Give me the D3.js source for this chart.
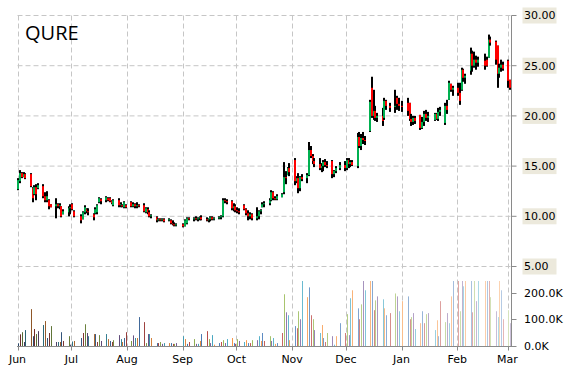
<!DOCTYPE html>
<html>
<head>
<meta charset="utf-8">
<script src="https://cdn.jsdelivr.net/npm/d3@7"></script>
<style>
  body { margin: 0; background: #fff; }
  svg { display: block; }
</style>
</head>
<body>
<div id="chart"></div>
<script>
const ticker = 'QURE';
const holidays = ['2014-07-04', '2014-09-01', '2014-11-27', '2014-12-25', '2015-01-01', '2015-01-19', '2015-02-16'];

const opens = [
  12.7, 13.5, 14.3, 13.9, 14.2, 14.2, 12.8, 12.2, 12.9, 12.8, 13.0, 12.0, 11.6, 11.6, 11.2, 11.0, 11.2, 11.0, 11.0, 10.2, 10.4,
  10.8, 11.2, 10.5, 10.0, 9.7, 10.4, 10.7, 10.5, 10.2, 10.3, 10.4, 11.4, 11.7, 11.6, 11.8, 11.8, 11.5, 11.1, 11.6, 11.1, 11.1, 10.9,
  11.1, 11.4, 11.0, 11.2, 11.0, 11.1, 11.1, 10.4, 10.7, 10.4, 10.0, 9.9, 9.6, 9.7, 9.6, 9.7, 9.6, 9.6, 9.3, 9.2, 9.1,
  9.2, 9.0, 9.3, 9.8, 9.7, 9.8, 9.7, 9.8, 9.9, 9.7, 9.6, 9.7, 9.9, 9.7, 9.8, 9.9, 10.0, 11.6, 11.5, 11.5, 10.8,
  11.0, 10.6, 10.5, 11.1, 10.7, 10.3, 10.0, 10.2, 9.8, 10.0, 10.5, 10.9, 11.2, 11.3, 11.6, 12.4, 11.8, 11.7, 11.9, 12.4, 13.9, 14.1, 14.8,
  15.6, 13.5, 13.8, 12.8, 13.9, 13.8, 14.1, 16.6, 16.0, 15.5, 15.2, 14.8, 15.0, 15.4, 15.1, 15.5, 14.2, 14.5, 14.8,
  15.1, 14.8, 15.6, 15.2, 15.4, 15.0, 17.9, 17.0, 17.8, 17.6, 18.5, 22.8, 20.0, 20.5, 19.8, 20.0, 19.8, 21.5, 21.0, 20.9, 21.8, 21.2,
  21.0, 21.3, 21.3, 19.7, 19.4, 19.8, 20.1, 18.8, 19.4, 20.2, 19.8, 19.6, 20.2, 19.7, 20.4, 19.3, 21.0, 21.6, 23.2, 22.6,
  22.8, 22.3, 22.6, 24.6, 23.8, 24.5, 26.2, 25.0, 25.6, 25.3, 25.5, 25.6, 25.8, 27.6, 27.4, 27.0, 24.2, 24.8, 25.1,
  25.5, 23.6
];
const highs = [
  13.8, 14.6, 14.4, 14.4, 14.3, 14.3, 12.9, 13.1, 13.2, 13.3, 13.2, 12.4, 12.5, 11.7, 11.2, 11.8, 11.3, 11.3, 11.0, 10.7, 11.0,
  11.2, 11.3, 10.6, 10.2, 10.5, 11.1, 10.8, 10.8, 10.3, 10.9, 11.2, 11.9, 11.8, 12.0, 11.9, 11.9, 11.6, 11.7, 11.8, 11.4, 11.2, 11.5,
  11.2, 11.5, 11.4, 11.3, 11.4, 11.2, 11.3, 10.9, 10.9, 10.6, 10.2, 10.0, 9.8, 9.8, 9.8, 9.8, 9.8, 9.7, 9.6, 9.4, 9.3,
  9.3, 9.7, 9.9, 9.9, 9.9, 10.0, 9.9, 10.0, 10.1, 9.9, 9.8, 10.0, 10.0, 9.9, 10.0, 10.1, 11.8, 11.8, 11.7, 11.6, 11.3,
  11.2, 10.9, 10.8, 11.2, 10.8, 10.6, 10.4, 10.3, 10.9, 10.6, 10.7, 11.4, 11.5, 11.8, 12.6, 12.5, 12.0, 12.2, 12.3, 15.4, 14.5, 14.9, 15.3,
  15.8, 14.0, 14.3, 14.0, 14.2, 14.3, 17.4, 17.0, 16.2, 15.8, 15.8, 15.3, 15.6, 15.7, 15.5, 15.6, 14.6, 15.0, 15.4,
  15.5, 15.8, 15.8, 15.6, 15.6, 18.3, 18.4, 18.2, 18.4, 18.0, 21.6, 23.9, 22.6, 21.0, 20.3, 20.8, 21.8, 21.6, 21.3, 22.6, 22.0, 21.8,
  21.5, 21.8, 21.3, 20.2, 20.0, 20.0, 20.1, 19.9, 20.5, 20.6, 20.4, 20.3, 20.3, 20.8, 20.9, 21.3, 21.6, 23.5, 23.2, 23.0,
  23.3, 23.3, 24.8, 24.7, 24.2, 26.8, 26.5, 26.4, 26.0, 25.9, 26.2, 25.9, 28.1, 27.9, 27.5, 27.0, 25.2, 25.6, 25.4,
  25.6, 23.6
];
const lows = [
  12.6, 13.3, 13.8, 13.9, 13.7, 12.9, 11.4, 12.1, 11.6, 12.7, 11.8, 11.4, 11.4, 10.7, 10.9, 9.8, 10.8, 10.7, 9.9, 10.2, 10.0,
  10.2, 10.6, 9.9, 9.3, 9.7, 10.2, 10.3, 10.1, 9.6, 10.2, 10.2, 11.3, 11.2, 11.4, 11.5, 11.4, 11.2, 11.0, 10.9, 10.9, 10.9, 10.8,
  10.8, 10.9, 10.9, 10.8, 10.8, 10.9, 10.4, 10.3, 10.2, 9.9, 9.8, 9.4, 9.5, 9.5, 9.5, 9.4, 9.5, 9.2, 9.1, 9.0, 9.0,
  8.9, 9.0, 9.2, 9.6, 9.5, 9.6, 9.5, 9.6, 9.6, 9.5, 9.4, 9.5, 9.6, 9.6, 9.7, 9.7, 9.9, 11.3, 11.2, 10.6, 10.5,
  10.4, 10.3, 10.2, 10.6, 10.1, 9.6, 9.7, 9.6, 9.6, 9.7, 10.2, 10.9, 10.9, 11.1, 11.5, 11.6, 11.6, 11.6, 11.9, 12.2, 13.2, 14.1, 14.0,
  13.1, 13.3, 12.3, 12.5, 13.5, 13.3, 14.0, 15.8, 15.2, 14.9, 14.6, 14.4, 14.5, 14.9, 14.8, 13.8, 13.9, 14.3, 14.6,
  14.5, 14.6, 14.8, 14.9, 15.0, 14.8, 16.8, 16.6, 17.2, 17.1, 18.4, 19.8, 19.6, 19.5, 19.4, 19.0, 19.6, 20.6, 20.4, 20.3, 20.6, 20.5,
  20.4, 20.0, 19.5, 19.0, 19.1, 19.2, 18.6, 18.7, 19.0, 19.5, 19.4, 19.5, 19.6, 19.5, 20.0, 19.1, 20.2, 21.6, 22.4, 22.0,
  22.0, 21.1, 22.5, 23.4, 23.2, 24.1, 24.4, 24.8, 24.6, 24.9, 24.6, 24.9, 25.8, 27.0, 25.1, 22.8, 23.8, 24.4, 24.5,
  22.8, 22.6
];
const closes = [
  13.6, 14.3, 13.9, 14.2, 13.8, 13.0, 11.8, 12.9, 12.2, 13.1, 12.0, 11.6, 12.0, 11.0, 10.9, 11.2, 11.0, 11.1, 10.0, 10.5, 10.8,
  10.9, 10.7, 10.0, 9.6, 10.4, 10.9, 10.5, 10.4, 9.9, 10.7, 11.1, 11.8, 11.5, 11.9, 11.6, 11.5, 11.3, 11.6, 11.1, 11.2, 11.0, 11.4,
  10.9, 11.0, 11.2, 11.0, 11.1, 11.0, 10.5, 10.8, 10.4, 10.0, 10.1, 9.6, 9.7, 9.6, 9.7, 9.5, 9.7, 9.3, 9.2, 9.1, 9.2,
  9.0, 9.6, 9.8, 9.7, 9.8, 9.7, 9.8, 9.9, 9.7, 9.6, 9.7, 9.9, 9.7, 9.8, 9.9, 10.0, 11.6, 11.5, 11.4, 10.8, 11.0,
  10.6, 10.5, 10.4, 10.7, 10.3, 10.0, 10.2, 9.8, 10.0, 10.5, 10.6, 11.2, 11.3, 11.6, 12.4, 11.8, 11.7, 12.0, 12.2, 13.9, 13.8, 14.8, 14.4,
  13.5, 13.8, 12.8, 13.9, 13.7, 14.1, 16.6, 16.0, 15.5, 15.2, 14.8, 15.0, 15.4, 15.1, 15.0, 14.2, 14.5, 14.8, 15.1,
  14.8, 15.6, 15.2, 15.4, 15.1, 17.9, 17.0, 17.8, 17.6, 17.5, 21.4, 20.0, 20.5, 19.8, 20.0, 19.5, 21.5, 21.0, 20.8, 21.0, 21.2, 21.0,
  20.9, 20.5, 19.7, 19.4, 19.8, 19.5, 18.8, 19.4, 20.2, 19.8, 20.0, 20.2, 19.7, 20.4, 20.6, 21.0, 20.6, 23.3, 22.6, 22.8,
  22.3, 21.5, 24.6, 23.8, 24.0, 26.2, 25.0, 25.6, 25.3, 25.6, 25.0, 25.0, 27.6, 27.3, 25.6, 24.2, 24.8, 25.1, 24.7,
  23.5, 22.8
];
// shares traded, thousands (bars above the panel are clipped)
const volumes = [
  10, 44, 52, 15, 60, 139, 37, 64, 45, 56, 79, 94, 30, 49, 75, 15, 15, 15, 52, 19, 37,
  5, 17, 19, 30, 49, 82, 49, 37, 45, 45, 15, 41, 19, 45, 26, 19, 15, 22, 41, 26, 15, 30,
  52, 19, 40, 30, 30, 109, 90, 11, 45, 45, 30, 11, 11, 15, 8, 11, 11, 11, 8, 8, 11,
  37, 26, 8, 15, 26, 8, 8, 19, 45, 56, 26, 11, 41, 5, 11, 15, 22, 11, 26, 30, 11,
  8, 26, 19, 15, 22, 11, 11, 22, 22, 37, 19, 49, 19, 37, 19, 30, 8, 11, 49, 195, 127, 116, 22,
  75, 67, 131, 101, 250, 184, 221, 116, 101, 60, 49, 79, 30, 15, 49, 37, 5, 37, 86,
  49, 120, 41, 180, 210, 142, 101, 157, 250, 210, 250, 250, 135, 172, 187, 176, 142, 116, 124, 198, 187, 131,
  169, 187, 101, 109, 124, 64, 86, 131, 86, 120, 124, 60, 97, 37, 169, 90, 124, 86, 187, 250,
  250, 131, 250, 225, 250, 250, 127, 250, 169, 250, 250, 250, 250, 184, 131, 109, 250, 210, 101,
  135, 86
];
const priceTicks = [5, 10, 15, 20, 25, 30];
const volumeTicks = [0, 100, 200];
const barPalette = ['#4F81BD', '#C0504D', '#9BBB59', '#8064A2', '#4BACC6', '#F79646'];

const width = 570, height = 370;
const plotLeft = 17.5, plotRight = 511.5, plotTop = 15.5, plotBottom = 346.5;
const font = 'DejaVu Sans, Verdana, sans-serif';

const dayKey = d3.timeFormat('%Y-%m-%d');
const days = d3.timeDay.range(new Date(2014, 5, 2), new Date(2015, 2, 4))
  .filter(d => d.getDay() % 6 !== 0 && !holidays.includes(dayKey(d)))
  .slice(0, closes.length);

const x = d3.scaleTime()
  .domain([new Date(2014, 5, 1), new Date(2015, 2, 1)])
  .range([plotLeft, 507.5]);
const y = d3.scaleLinear().domain([5, 30]).range([266.5, plotTop]);
const yVol = d3.scaleLinear().domain([0, 245]).range([plotBottom - 0.5, 281]).clamp(true);

const svg = d3.select('#chart').append('svg')
  .attr('width', width)
  .attr('height', height);

const months = d3.timeMonth.range(new Date(2014, 5, 1), new Date(2015, 2, 2));

// grid
const grid = svg.append('g')
  .attr('stroke', '#c6c6c6')
  .attr('stroke-dasharray', '5,3');
grid.selectAll('.h')
  .data(priceTicks)
  .join('line')
  .attr('class', 'h')
  .attr('x1', plotLeft).attr('x2', plotRight)
  .attr('y1', d => y(d)).attr('y2', d => y(d));
grid.selectAll('.v')
  .data(months)
  .join('line')
  .attr('class', 'v')
  .attr('x1', d => Math.round(x(d)) + 0.5).attr('x2', d => Math.round(x(d)) + 0.5)
  .attr('y1', plotTop).attr('y2', plotBottom);

// volume bars, colours vary by point from dark shades to light tints
const shadeColor = (i, n) => {
  const c = d3.rgb(barPalette[i % barPalette.length]);
  const f = -0.45 + 1.05 * i / (n - 1);
  const adj = v => f < 0 ? v * (1 + f) : v + (255 - v) * f;
  return d3.rgb(adj(c.r), adj(c.g), adj(c.b)).formatHex();
};
svg.append('g')
  .selectAll('rect')
  .data(volumes)
  .join('rect')
  .attr('x', (d, i) => Math.round(x(days[i])) - 1)
  .attr('width', 1)
  .attr('y', d => yVol(d))
  .attr('height', d => yVol(0) - yVol(d))
  .attr('fill', (d, i) => shadeColor(i, volumes.length));

// candles
const candles = svg.append('g')
  .selectAll('g')
  .data(days.map((d, i) => ({ date: d, o: opens[i], h: highs[i], l: lows[i], c: closes[i] })))
  .join('g');
candles.append('rect')
  .attr('x', d => Math.round(x(d.date)) - 2)
  .attr('width', 2)
  .attr('y', d => y(d.h))
  .attr('height', d => Math.max(1, y(d.l) - y(d.h)))
  .attr('fill', '#000');
candles.append('rect')
  .attr('x', d => Math.round(x(d.date)) - 2)
  .attr('width', 2)
  .attr('y', d => y(Math.max(d.o, d.c)))
  .attr('height', d => Math.max(1, Math.abs(y(d.o) - y(d.c))))
  .attr('fill', d => d.c >= d.o ? '#00b050' : '#ff0000');

// axes
const axis = svg.append('g').attr('stroke', '#8a8a8a');
axis.append('line')
  .attr('x1', plotRight).attr('x2', plotRight)
  .attr('y1', plotTop).attr('y2', plotBottom);
axis.append('line')
  .attr('x1', plotLeft - 0.5).attr('x2', plotRight + 0.5)
  .attr('y1', plotBottom).attr('y2', plotBottom);
axis.selectAll('.pt')
  .data(priceTicks)
  .join('line')
  .attr('class', 'pt')
  .attr('x1', plotRight).attr('x2', plotRight + 5)
  .attr('y1', d => y(d)).attr('y2', d => y(d));
axis.selectAll('.vt')
  .data(volumeTicks)
  .join('line')
  .attr('class', 'vt')
  .attr('x1', plotRight).attr('x2', plotRight + 5)
  .attr('y1', d => Math.round(yVol(d)) + 0.5).attr('y2', d => Math.round(yVol(d)) + 0.5);
axis.selectAll('.mt')
  .data(months)
  .join('line')
  .attr('class', 'mt')
  .attr('x1', d => Math.round(x(d)) + 0.5).attr('x2', d => Math.round(x(d)) + 0.5)
  .attr('y1', plotBottom).attr('y2', plotBottom + 4);

// price labels with shaded boxes
const priceLabel = svg.append('g')
  .selectAll('g')
  .data(priceTicks)
  .join('g')
  .attr('transform', d => `translate(524, ${y(d)})`);
priceLabel.append('rect')
  .attr('x', -1.5).attr('y', -8)
  .attr('width', 34).attr('height', 16)
  .attr('fill', '#ece9dc');
priceLabel.append('text')
  .attr('font-family', font)
  .attr('font-size', 11)
  .attr('dy', '0.36em')
  .attr('fill', '#000')
  .text(d => d3.format('.2f')(d));

svg.append('g')
  .selectAll('text')
  .data(volumeTicks)
  .join('text')
  .attr('x', 524)
  .attr('y', d => yVol(d))
  .attr('dy', '0.36em')
  .attr('font-family', font)
  .attr('font-size', 11)
  .attr('fill', '#000')
  .text(d => d3.format('.1f')(d) + 'K');

svg.append('g')
  .selectAll('text')
  .data(months)
  .join('text')
  .attr('x', d => x(d))
  .attr('y', 363)
  .attr('text-anchor', 'middle')
  .attr('font-family', font)
  .attr('font-size', 11)
  .attr('fill', '#000')
  .text(d => d3.timeFormat('%b')(d));

svg.append('text')
  .attr('x', 25)
  .attr('y', 40)
  .attr('font-family', 'Open Sans, sans-serif')
  .attr('font-size', 20)
  .attr('fill', '#000')
  .text(ticker);
</script>
</body>
</html>
